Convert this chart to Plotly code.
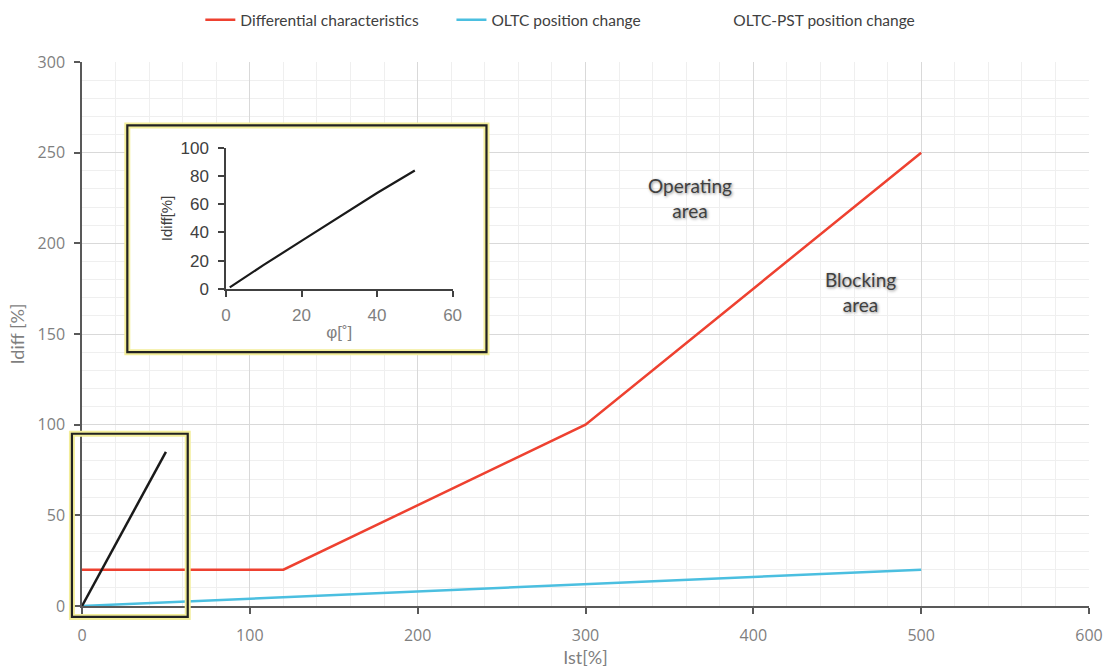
import plotly.graph_objects as go

# ---- data ----
diff_x = [0, 120, 300, 500]
diff_y = [20, 20, 100, 250]
oltc_x = [0, 500]
oltc_y = [0, 20]
pst_x = [0, 50]
pst_y = [0, 85]
inset_phi = [1, 10, 20, 30, 40, 50]
inset_idiff = [1, 17, 34, 51, 68, 84]

FONT = "Lato"
TICKFONT = "Open Sans"
GRAY = "#7f7f7f"
DARK = "#404040"
RED = "#ee4130"
BLUE = "#4bbfe0"
NB = "\u00a0"

fig = go.Figure()
fig.add_trace(go.Scatter(x=diff_x, y=diff_y, mode="lines",
                         name="Differential characteristics" + NB * 7,
                         line=dict(color=RED, width=2.5)))
fig.add_trace(go.Scatter(x=oltc_x, y=oltc_y, mode="lines",
                         name="OLTC position change" + NB * 12,
                         line=dict(color=BLUE, width=2.5)))
fig.add_trace(go.Scatter(x=pst_x, y=pst_y, mode="lines", name="OLTC-PST position change",
                         line=dict(color="#1a1a1a", width=2.5), showlegend=False))
# legend placeholder (no visible sample in reference)
fig.add_trace(go.Scatter(x=[None], y=[None], mode="lines", name="OLTC-PST position change",
                         line=dict(color="rgba(0,0,0,0)", width=2.5)))

# inset
fig.add_trace(go.Scatter(x=inset_phi, y=inset_idiff, mode="lines", showlegend=False,
                         line=dict(color="#1a1a1a", width=2.2), xaxis="x2", yaxis="y2"))

ML, MR, MT, MB = 82, 17, 62, 62
W, H = 1106, 668
XR = [0, 600]
YR = [0, 300]

def to_paper_x(v):
    return (v - XR[0]) / (XR[1] - XR[0])

def to_paper_y(v):
    return (v - YR[0]) / (YR[1] - YR[0])

shapes = []
inset_box = dict(x0=27, x1=241, y0=140, y1=265)
shapes.append(dict(type="rect", xref="x", yref="y", layer="between",
                   fillcolor="white", line=dict(width=0), **inset_box))
shapes.append(dict(type="rect", xref="x", yref="y", layer="above",
                   line=dict(color="#f3ee9a", width=6), **inset_box))
shapes.append(dict(type="rect", xref="x", yref="y", layer="above",
                   line=dict(color="#222222", width=2.2), **inset_box))
small_box = dict(x0=to_paper_x(-6), x1=to_paper_x(63), y0=to_paper_y(-6), y1=to_paper_y(95))
shapes.append(dict(type="rect", xref="paper", yref="paper", layer="above",
                   line=dict(color="#f3ee9a", width=6), **small_box))
shapes.append(dict(type="rect", xref="paper", yref="paper", layer="above",
                   line=dict(color="#222222", width=2.2), **small_box))

ann_font = dict(family=FONT, size=19, color=DARK, shadow="1px 1px 3px #888")
annotations = [
    dict(x=362, y=225, xref="x", yref="y", text="Operating<br>area", showarrow=False,
         font=ann_font),
    dict(x=464, y=173, xref="x", yref="y", text="Blocking<br>area", showarrow=False,
         font=ann_font),
]

fig.update_layout(
    width=W, height=H,
    margin=dict(l=ML, r=MR, t=MT, b=MB, autoexpand=False),
    paper_bgcolor="white", plot_bgcolor="white",
    font=dict(family=FONT, color=GRAY),
    showlegend=True,
    legend=dict(orientation="h", x=0.475, xanchor="center", y=1.077, yanchor="middle",
                font=dict(family=FONT, size=15.5, color=DARK),
                bgcolor="rgba(0,0,0,0)"),
    xaxis=dict(range=XR, dtick=100, showgrid=True, gridcolor="#d9d9d9", gridwidth=1,
               minor=dict(dtick=20, showgrid=True, gridcolor="#efefef", gridwidth=1),
               showline=True, linecolor="#595959", linewidth=1.5,
               ticks="outside", ticklen=6, tickcolor="#595959", tickwidth=1.5,
               tickfont=dict(family=TICKFONT, size=16, color=GRAY), ticklabelstandoff=8,
               zeroline=False, automargin=False,
               title=dict(text="Ist[%]", font=dict(family=FONT, size=18, color=GRAY), standoff=6)),
    yaxis=dict(range=YR, dtick=50, showgrid=True, gridcolor="#d9d9d9", gridwidth=1,
               minor=dict(dtick=10, showgrid=True, gridcolor="#efefef", gridwidth=1),
               showline=True, linecolor="#595959", linewidth=1.5,
               ticks="outside", ticklen=6, tickcolor="#595959", tickwidth=1.5,
               tickfont=dict(family=TICKFONT, size=16, color=GRAY), ticklabelstandoff=6,
               zeroline=False, automargin=False,
               title=dict(text="Idiff [%]", font=dict(family=FONT, size=18, color=GRAY), standoff=8)),
    xaxis2=dict(domain=[0.143, 0.368], anchor="y2", range=[0, 60], dtick=20,
                showgrid=False, zeroline=False, showline=True, linecolor="#404040", linewidth=1.5,
                ticks="outside", ticklen=6, tickcolor="#404040", tickwidth=1.5,
                tickfont=dict(family="Liberation Sans", size=17, color=GRAY), ticklabelstandoff=4,
                automargin=False,
                title=dict(text="φ[˚]", font=dict(family="Liberation Sans", size=17, color=GRAY), standoff=2)),
    yaxis2=dict(domain=[0.583, 0.842], anchor="x2", range=[0, 100], dtick=20,
                showgrid=False, zeroline=False, showline=True, linecolor="#404040", linewidth=1.5,
                ticks="outside", ticklen=6, tickcolor="#404040", tickwidth=1.5,
                tickfont=dict(family="Liberation Sans", size=17, color=DARK), ticklabelstandoff=6,
                automargin=False,
                title=dict(text="Idiff[%]", font=dict(family="Liberation Sans", size=15, color=DARK), standoff=4)),
    shapes=shapes,
    annotations=annotations,
)

fig.write_html("out.html", config={"displayModeBar": False},
               post_script="document.body.style.margin='0';")
